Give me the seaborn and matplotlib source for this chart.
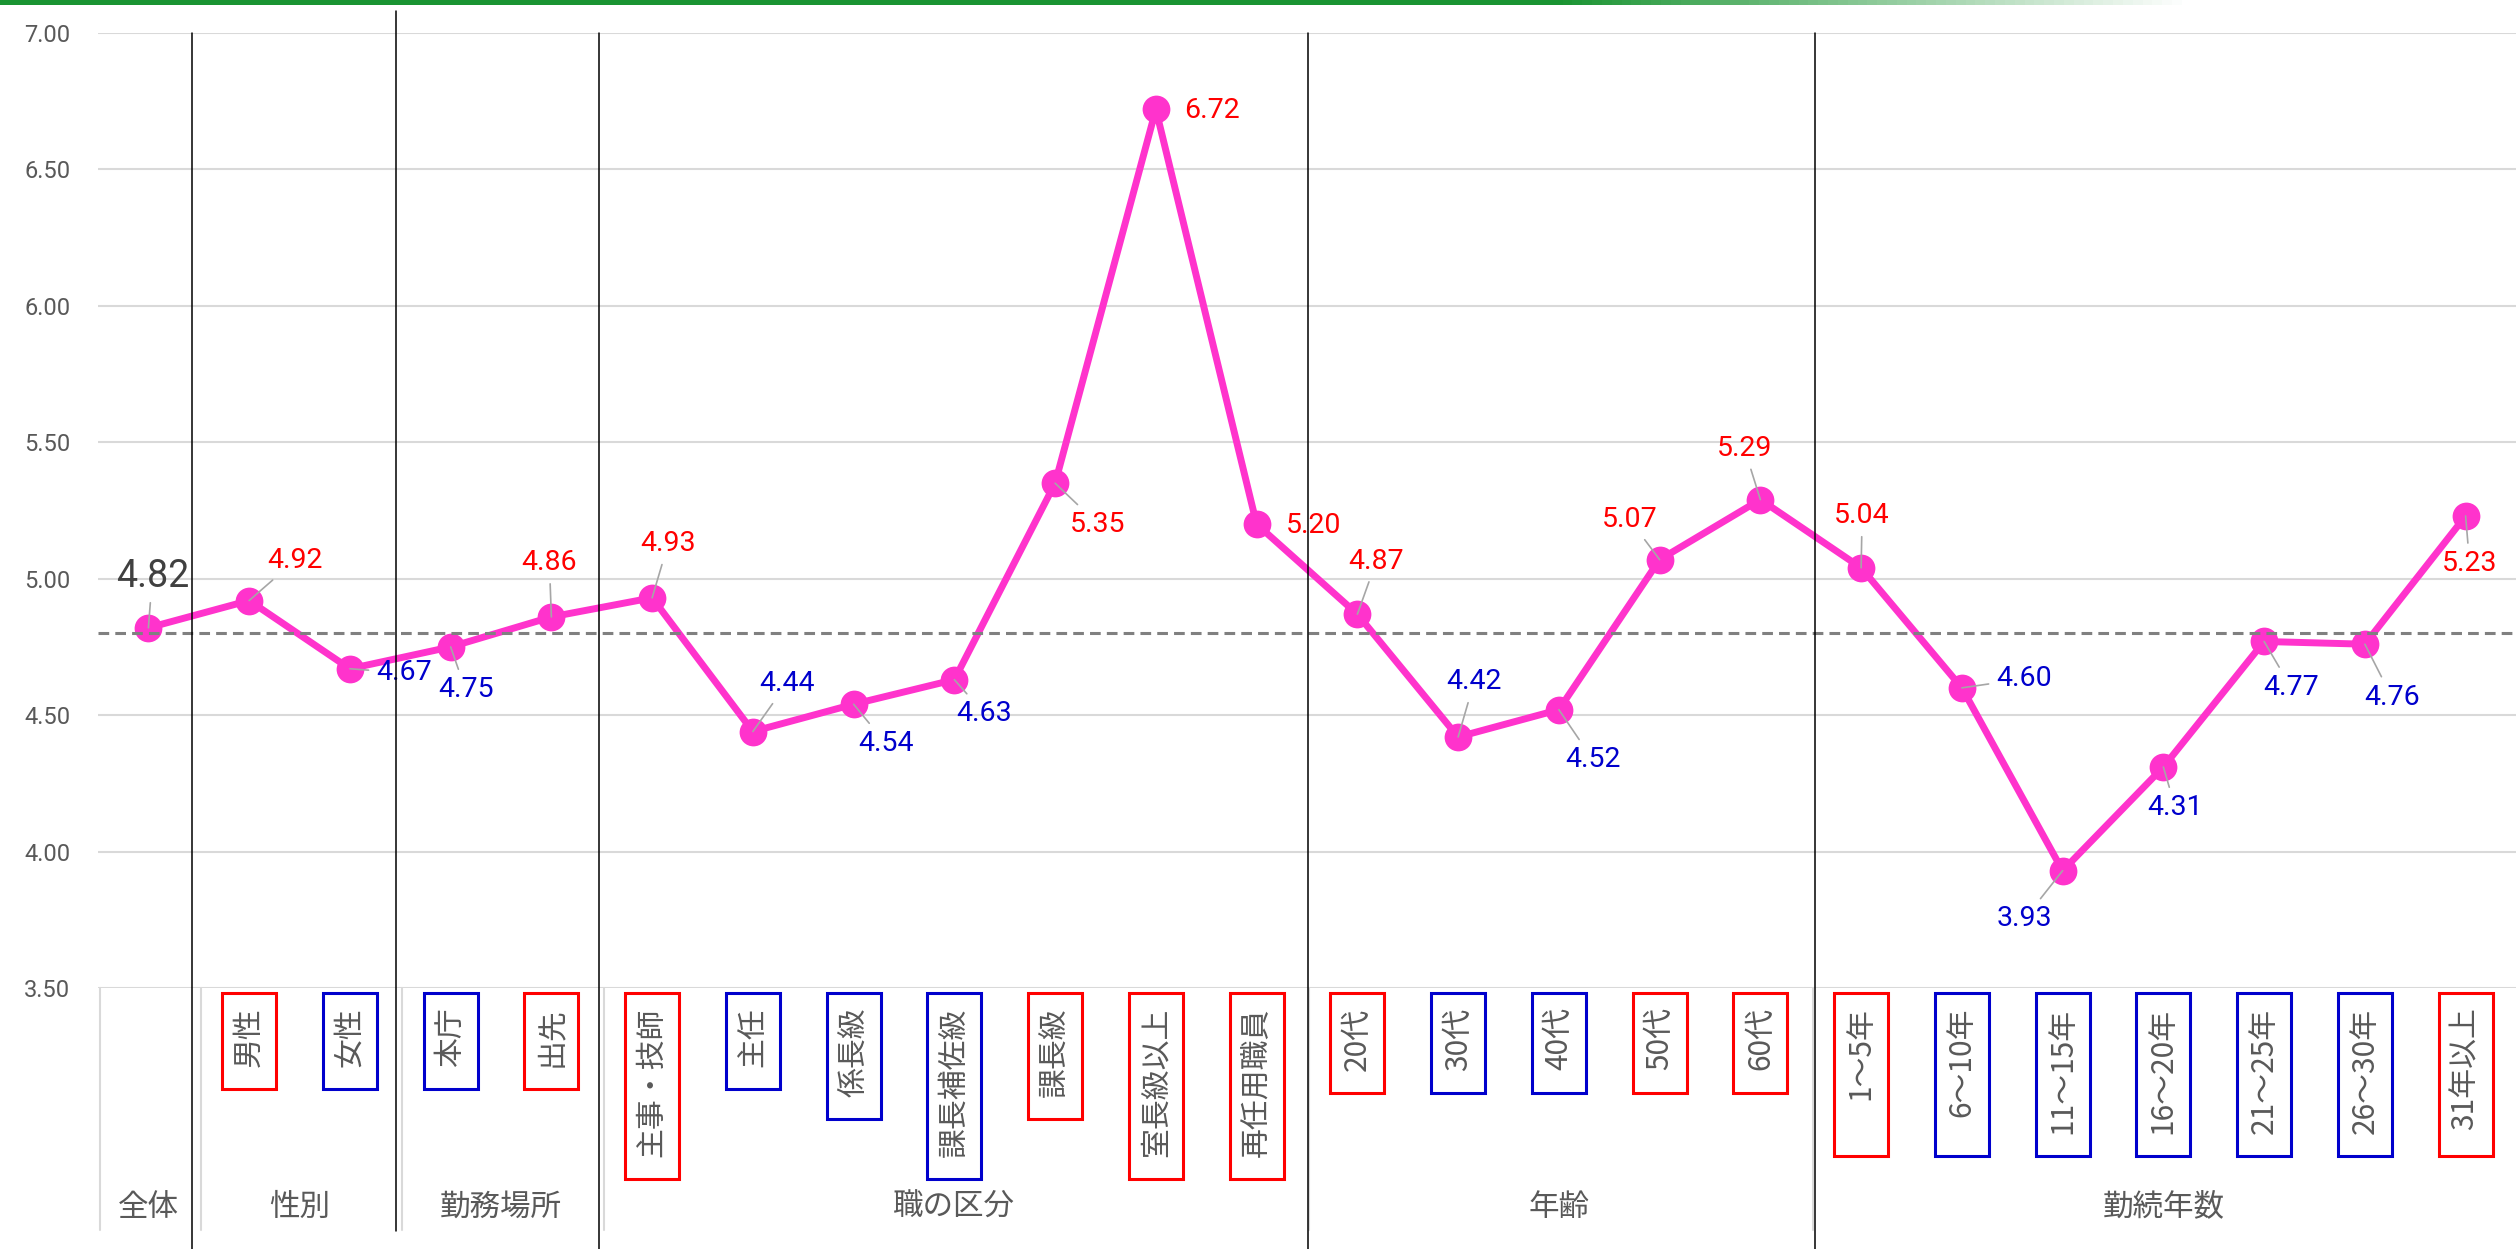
import numpy as np
import pandas as pd
import seaborn as sns
import matplotlib.pyplot as plt
from matplotlib.colors import LinearSegmentedColormap
from matplotlib.patches import Rectangle
from matplotlib.transforms import blended_transform_factory, IdentityTransform

# ---- data ----
categories = ["全体", "男性", "女性", "本庁", "出先",
              "主事・技師", "主任", "係長級", "課長補佐級", "課長級", "室長級以上", "再任用職員",
              "20代", "30代", "40代", "50代", "60代",
              "1～5年", "6～10年", "11～15年", "16～20年", "21～25年", "26～30年", "31年以上"]
scores = [4.82, 4.92, 4.67, 4.75, 4.86,
          4.93, 4.44, 4.54, 4.63, 5.35, 6.72, 5.20,
          4.87, 4.42, 4.52, 5.07, 5.29,
          5.04, 4.60, 3.93, 4.31, 4.77, 4.76, 5.23]
groups = ["全体", "性別", "勤務場所", "職の区分", "年齢", "勤続年数"]
group_sizes = [1, 2, 2, 7, 5, 7]
y_ticks = [3.5, 4.0, 4.5, 5.0, 5.5, 6.0, 6.5, 7.0]
avg_line = 4.80  # dashed reference line as drawn

# label placement (pixel offsets from each point) and whether a leader line is drawn
label_offsets = [(4, 51), (46, 40), (54, -4), (15, -43), (-2, 54),
                 (16, 54), (34, 48), (32, -39), (30, -34), (43, -41), (56, -1), (57, -1),
                 (19, 53), (16, 55), (34, -50), (-30, 40), (-16, 51),
                 (1, 52), (62, 9), (-38, -48), (12, -41), (27, -46), (27, -53), (4, -48)]
leaders = [True] * 10 + [False, False] + [True] * 12
sep_shift = [-0.07, -0.04, -0.03, 0.01, 0.04]
same_box_in_group = [False, True, True, False, True, True]

PINK = "#ff33cc"
RED = "#ff0000"
BLUE = "#0000cc"
GREY_TXT = "#595959"

df = pd.DataFrame({"pos": np.arange(len(categories)), "category": categories, "score": scores})
overall = scores[0]

sns.set_theme(style="white")
plt.rcParams["font.family"] = ["Roboto", "Noto Sans CJK JP", "DejaVu Sans"]

W, H = 2516, 1249
fig = plt.figure(figsize=(W / 100, H / 100), dpi=100)
fig.patch.set_facecolor("white")
ax = fig.add_axes([98 / W, 1 - 988 / H, 1 - 98 / W, (988 - 33) / H])

sns.lineplot(data=df, x="pos", y="score", ax=ax, color=PINK, linewidth=5,
             marker="o", markersize=20, markeredgewidth=0, zorder=4)
ax.axhline(avg_line, color="#808080", lw=2.2, ls=(0, (3.5, 2)), zorder=5)

ax.set_xlim(-0.5, len(categories) - 0.5)
ax.set_ylim(3.5, 7.0)
ax.set_yticks(y_ticks)
ax.set_yticklabels([f"{t:.2f}" for t in y_ticks])
ax.tick_params(axis="y", length=0, pad=20, labelsize=17, labelcolor=GREY_TXT)
ax.grid(axis="y", color="#d9d9d9", lw=1.5)
ax.grid(axis="x", visible=False)
ax.set_axisbelow(True)
for s in ax.spines.values():
    s.set_visible(False)
ax.set_xlabel("")
ax.set_ylabel("")

# vertical category labels
tick_text = ["" if i == 0 else c for i, c in enumerate(categories)]
ax.set_xticks(df["pos"])
ax.set_xticklabels(tick_text, rotation=90, fontsize=21.5, family="Noto Sans CJK JP", color=GREY_TXT)
ax.tick_params(axis="x", length=0, pad=14)

# data labels
for i, v in enumerate(scores):
    if i == 0:
        col, fs = "#404040", 27
    else:
        col, fs = (RED if v > overall else BLUE), 20.5
    arrow = dict(arrowstyle="-", color="#a6a6a6", lw=1.2, shrinkA=3, shrinkB=0) if leaders[i] else None
    ax.annotate(f"{v:.2f}", xy=(i, v), xytext=label_offsets[i], textcoords="offset pixels",
                ha="center", va="center", fontsize=fs, color=col, family="Roboto",
                arrowprops=arrow, zorder=6)

# group separators and group names
trans = blended_transform_factory(ax.transData, fig.transFigure)
ends = np.cumsum(group_sizes)
starts = ends - np.array(group_sizes)
bounds = ends[:-1] - 0.5
ax_top = 1 - 33 / H
ax_bot = 1 - 988 / H
black_extent = [(ax_top, 0.0), (1 - 11 / H, 1 - 1231 / H), (ax_top, 0.0), (ax_top, 0.0), (ax_top, 0.0)]
for b, d, (top, bot) in zip(bounds, sep_shift, black_extent):
    ax.plot([b + d, b + d], [bot, top], transform=trans, color="black", lw=1.1, clip_on=False, zorder=7)
for b in np.concatenate([[-0.5], bounds]):
    ax.plot([b + 0.02, b + 0.02], [ax_bot, 1 - 1230 / H], transform=trans,
            color="#d9d9d9", lw=1.5, clip_on=False, zorder=1)
for name, s0, e0 in zip(groups, starts, ends):
    ax.text((s0 + e0 - 1) / 2, 1 - 1207 / H, name, transform=trans, ha="center", va="center",
            fontsize=22, color=GREY_TXT, family="Noto Sans CJK JP")

# boxes around the category labels (drawn in pixel space after layout)
fig.canvas.draw()
renderer = fig.canvas.get_renderer()
tick_labels = ax.get_xticklabels()
extents = [lab.get_window_extent(renderer) for lab in tick_labels]
axis_px = H - 988
for g, (s0, e0) in enumerate(zip(starts, ends)):
    idx = [i for i in range(s0, e0) if i != 0]
    if not idx:
        continue
    low = min(extents[i].y0 for i in idx)
    for i in idx:
        bb = extents[i]
        cx = (bb.x0 + bb.x1) / 2
        bottom = (low if same_box_in_group[g] else bb.y0) - 22
        top = axis_px - 5
        col = RED if scores[i] > overall else BLUE
        fig.add_artist(Rectangle((cx - 27, bottom), 54, top - bottom, transform=IdentityTransform(),
                                 fill=False, ec=col, lw=2.2, zorder=8))

# green header strip
bar_ax = fig.add_axes([0, 1 - 5 / H, 1, 5 / H])
cmap = LinearSegmentedColormap.from_list(
    "strip", [(0, "#1a9432"), (0.62, "#1a9432"), (0.87, "#ffffff"), (1, "#ffffff")])
bar_ax.imshow(np.linspace(0, 1, 512)[None, :], aspect="auto", cmap=cmap)
bar_ax.axis("off")

fig.savefig("out.png", dpi=100)
